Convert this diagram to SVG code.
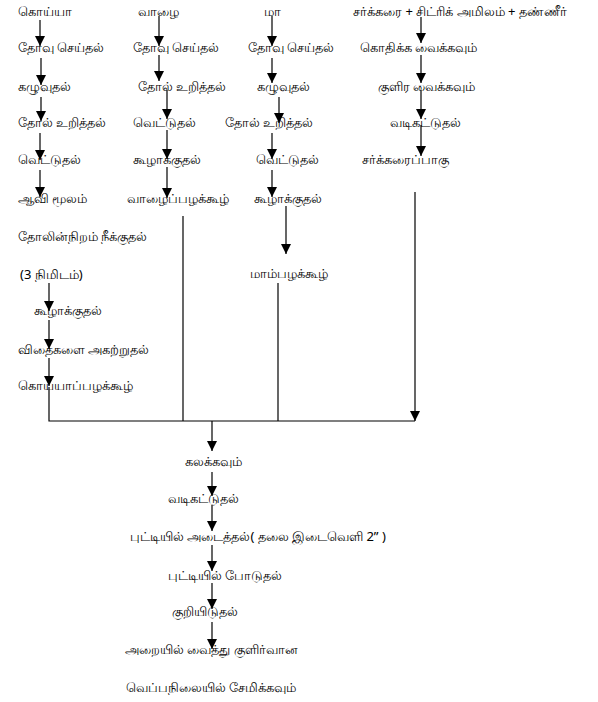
<svg xmlns="http://www.w3.org/2000/svg" width="598" height="702" viewBox="0 0 598 702">
<defs>
<marker id="ah" viewBox="0 0 10 10" refX="10" refY="5" markerWidth="11" markerHeight="10" markerUnits="userSpaceOnUse" orient="auto">
<path d="M0,0 L10,5 L0,10 z" fill="#000"/>
</marker>
</defs>
<style>
text{font-family:"Noto Sans","Liberation Sans",sans-serif;font-size:13px;fill:#000}
.a{stroke:#000;stroke-width:1.2;fill:none;marker-end:url(#ah)}
.l{stroke:#000;stroke-width:1.2;fill:none}
</style>
<rect width="598" height="702" fill="#fff"/>
<g id="connectors">
<line class="a" x1="40" y1="20" x2="40" y2="46"/>
<line class="a" x1="41" y1="58" x2="41" y2="85"/>
<line class="a" x1="41" y1="97" x2="41" y2="121"/>
<line class="a" x1="40" y1="133" x2="40" y2="160"/>
<line class="a" x1="40" y1="170" x2="40" y2="197"/>
<line class="a" x1="49" y1="283" x2="49" y2="311"/>
<line class="a" x1="49" y1="320" x2="49" y2="349"/>
<line class="a" x1="49" y1="358" x2="49" y2="386"/>
<line class="a" x1="159" y1="16" x2="159" y2="46"/>
<line class="a" x1="159" y1="55" x2="159" y2="81"/>
<line class="a" x1="167" y1="90" x2="167" y2="119"/>
<line class="a" x1="167" y1="130" x2="167" y2="159"/>
<line class="a" x1="167" y1="167" x2="167" y2="198"/>
<line class="a" x1="272" y1="16" x2="272" y2="46"/>
<line class="a" x1="272" y1="58" x2="272" y2="83"/>
<line class="a" x1="279" y1="97" x2="279" y2="123"/>
<line class="a" x1="272" y1="133" x2="272" y2="159"/>
<line class="a" x1="272" y1="170" x2="272" y2="197"/>
<line class="a" x1="286" y1="206" x2="286" y2="254"/>
<line class="a" x1="421" y1="17" x2="421" y2="43"/>
<line class="a" x1="421" y1="55" x2="421" y2="83"/>
<line class="a" x1="421" y1="90" x2="421" y2="119"/>
<line class="a" x1="421" y1="125" x2="421" y2="156"/>
<line class="a" x1="415" y1="192" x2="415" y2="421"/>
<line class="l" x1="183" y1="216" x2="183" y2="421"/>
<line class="l" x1="278" y1="283" x2="278" y2="421"/>
<polyline class="l" points="49,387 49,421 415,421"/>
<line class="a" x1="212" y1="421" x2="212" y2="451"/>
<line class="a" x1="212" y1="472" x2="212" y2="496"/>
<line class="a" x1="212" y1="505" x2="212" y2="531"/>
<line class="a" x1="212" y1="545" x2="212" y2="571"/>
<line class="a" x1="212" y1="583" x2="212" y2="609"/>
<line class="a" x1="212" y1="622" x2="212" y2="649"/>
</g>
<g id="guava">
<text x="18" y="16">கொய்யா</text>
<text x="18" y="52">தோவு செய்தல்</text>
<text x="18" y="91">கழுவுதல்</text>
<text x="18" y="127">தோல் உறித்தல்</text>
<text x="18" y="164">வெட்டுதல்</text>
<text x="18" y="203">ஆவி மூலம்</text>
<text x="18" y="241">தோலின்நிறம் நீக்குதல்</text>
<text x="20" y="279">(3 நிமிடம்)</text>
<text x="34" y="315">கூழாக்குதல்</text>
<text x="18" y="354">விதைகளை அகற்றுதல்</text>
<text x="18" y="390">கொய்யாப்பழக்கூழ்</text>
</g>
<g id="banana">
<text x="138" y="16">வாழை</text>
<text x="133" y="52">தோவு செய்தல்</text>
<text x="138" y="91">தோல் உறித்தல்</text>
<text x="133" y="127">வெட்டுதல்</text>
<text x="133" y="164">கூழாக்குதல்</text>
<text x="127" y="203">வாழைப்பழக்கூழ்</text>
</g>
<g id="mango">
<text x="264" y="16">மா</text>
<text x="248" y="52">தோவு செய்தல்</text>
<text x="257" y="91">கழுவுதல்</text>
<text x="225" y="127">தோல் உறித்தல்</text>
<text x="256" y="164">வெட்டுதல்</text>
<text x="254" y="203">கூழாக்குதல்</text>
<text x="250" y="278">மாம்பழக்கூழ்</text>
</g>
<g id="syrup">
<text x="353" y="16">சர்க்கரை + சிட்ரிக் அமிலம் + தண்ணீர்</text>
<text x="360" y="52">கொதிக்க வைக்கவும்</text>
<text x="378" y="91">குளிர வைக்கவும்</text>
<text x="390" y="127">வடிகட்டுதல்</text>
<text x="362" y="164">சர்க்கரைப்பாகு</text>
</g>
<g id="final">
<text x="185" y="466">கலக்கவும்</text>
<text x="168" y="503">வடிகட்டுதல்</text>
<text x="130" y="541">புட்டியில் அடைத்தல்( தலை இடைவெளி 2” )</text>
<text x="168" y="580">புட்டியில் போடுதல்</text>
<text x="172" y="616">குறியிடுதல்</text>
<text x="125" y="654">அறையில் வைத்து குளிர்வான</text>
<text x="126" y="692">வெப்பநிலையில் சேமிக்கவும்</text>
</g>
</svg>
